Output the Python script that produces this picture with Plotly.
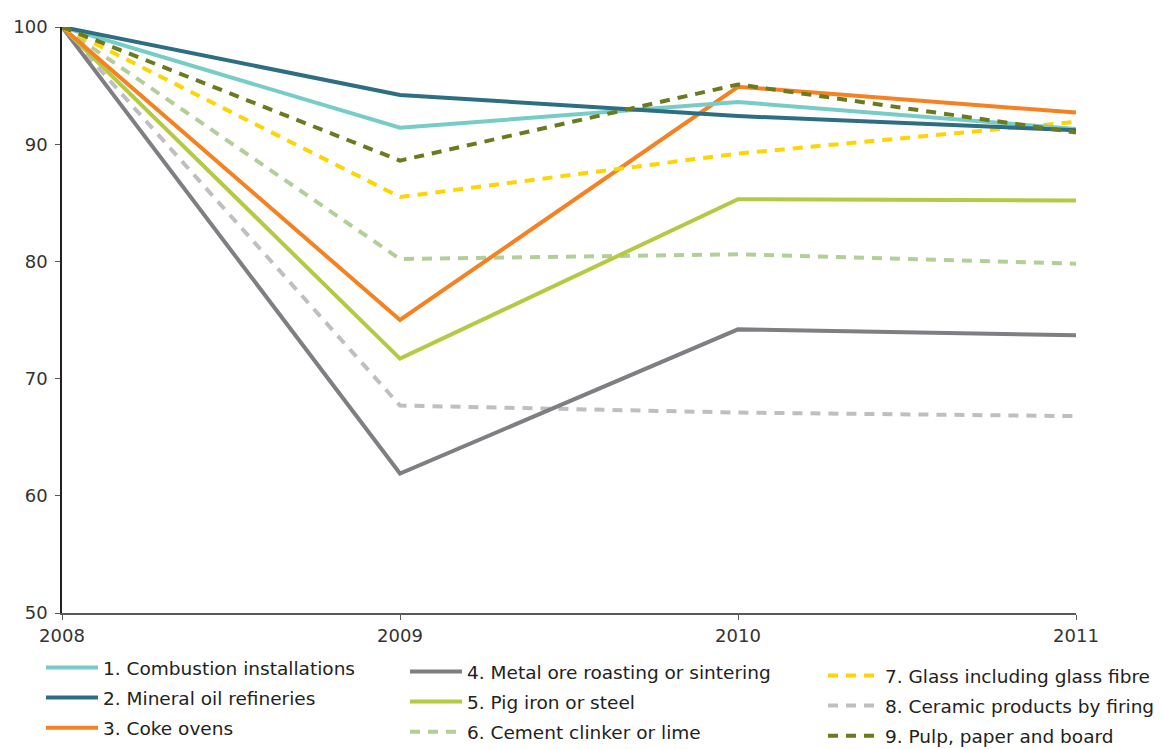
import plotly.graph_objects as go

years = [2008, 2009, 2010, 2011]
names = [
    "1. Combustion installations",
    "2. Mineral oil refineries",
    "3. Coke ovens",
    "4. Metal ore roasting or sintering",
    "5. Pig iron or steel",
    "6. Cement clinker or lime",
    "7. Glass including glass fibre",
    "8. Ceramic products by firing",
    "9. Pulp, paper and board",
]
combustion = [100, 91.4, 93.6, 91.3]
mineral_oil = [100, 94.2, 92.4, 91.2]
coke = [100, 75.0, 94.9, 92.7]
metal_ore = [100, 61.9, 74.2, 73.7]
pig_iron = [100, 71.7, 85.3, 85.2]
cement = [100, 80.2, 80.6, 79.8]
glass = [100, 85.5, 89.2, 91.9]
ceramic = [100, 67.7, 67.1, 66.8]
pulp = [100, 88.6, 95.1, 91.0]

series = [combustion, mineral_oil, coke, metal_ore, pig_iron, cement, glass, ceramic, pulp]
colors = ["#77CCC8", "#2E6E82", "#F58220", "#7F7F83", "#B5C942",
          "#B3CF98", "#FFD400", "#BFBFC3", "#6C7A1E"]
dashes = ["solid", "solid", "solid", "solid", "solid",
          "10px,8px", "10px,8px", "10px,8px", "10px,8px"]
legends = ["legend", "legend", "legend", "legend2", "legend2", "legend2",
           "legend3", "legend3", "legend3"]

fig = go.Figure()
order = [7, 5, 3, 4, 2, 6, 0, 1, 8]
for i in order:
    fig.add_trace(go.Scatter(
        x=years, y=series[i], name=names[i], mode="lines",
        line=dict(color=colors[i], width=4, dash=dashes[i]),
        legend=legends[i], legendgroup=str(i), legendrank=i,
    ))

font = "DejaVu Sans, Verdana, sans-serif"
W, H = 1161, 749
leg_common = dict(font=dict(family=font, size=18.5, color="#222222"),
                  bgcolor="rgba(0,0,0,0)", tracegroupgap=3, itemwidth=52,
                  xref="container", yref="container",
                  xanchor="left", yanchor="top", orientation="v")

# page body has an 8px offset; positions below are in figure coordinates
fig.update_layout(
    width=W, height=H,
    margin=dict(l=54, r=93, t=19, b=144, autoexpand=False),
    plot_bgcolor="white", paper_bgcolor="white",
    font=dict(family=font, size=18, color="#222222"),
    showlegend=True,
    legend=dict(x=33 / W, y=1 - 641 / H, **leg_common),
    legend2=dict(x=397 / W, y=1 - 645 / H, **leg_common),
    legend3=dict(x=815 / W, y=1 - 649 / H, **leg_common),
    xaxis=dict(range=[2008, 2011], tickvals=years, ticktext=[str(y) for y in years],
               showgrid=False, zeroline=False, showline=True, linecolor="#595959",
               linewidth=2, ticks="outside", ticklen=5, tickcolor="#595959",
               tickfont=dict(size=18, family=font, color="#333333")),
    yaxis=dict(range=[50, 100], tickvals=[50, 60, 70, 80, 90, 100],
               showgrid=False, zeroline=False, showline=True, linecolor="#222222",
               linewidth=1.5, ticks="outside", ticklen=5, tickcolor="#595959",
               ticklabelstandoff=4,
               tickfont=dict(size=18, family=font, color="#333333")),
)

fig.write_html("out.html")
